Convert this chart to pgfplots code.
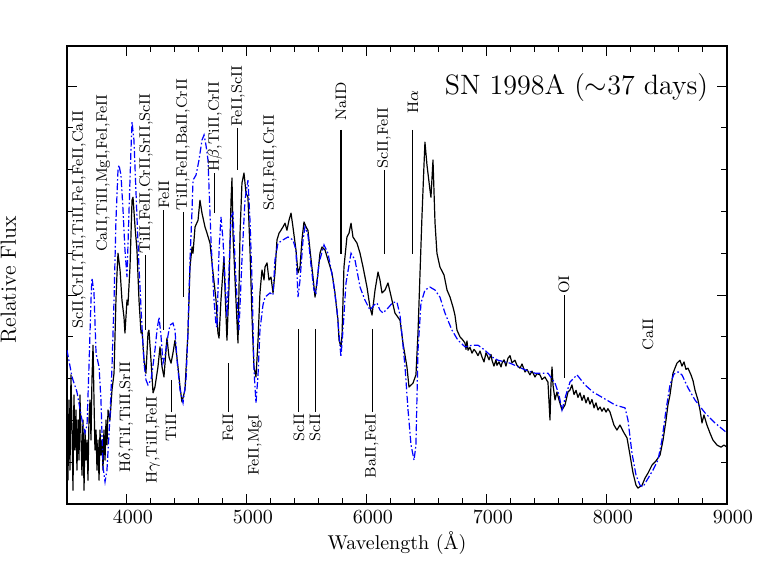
\documentclass[border=0pt]{standalone}
\usepackage{fontspec}
\usepackage{pgfplots}
\usepackage{pgfplotstable}
\pgfplotsset{compat=1.18}

\pgfplotstableread{
lam flux
3500 2.73
3508 0.57
3517 2.49
3525 0.81
3533 3.09
3542 1.77
3550 0.33
3558 2.61
3567 1.29
3575 2.25
3583 0.81
3592 2.01
3600 1.05
3608 2.61
3617 1.53
3625 0.69
3633 2.01
3642 0.33
3650 1.77
3658 1.05
3667 1.53
3675 0.57
3683 2.01
3692 2.49
3700 1.53
3708 2.97
3717 3.80
3725 2.49
3733 1.29
3742 1.77
3750 0.81
3758 1.53
3767 0.57
3775 1.77
3783 1.17
3792 1.53
3800 0.81
3808 1.77
3817 1.05
3825 2.01
3833 1.41
3842 2.25
3858 2.01
3875 2.73
3892 3.13
3908 4.88
3917 5.53
3925 6.00
3942 5.60
3958 4.88
3975 4.47
3983 4.09
4000 4.88
4008 4.76
4025 5.67
4042 7.27
4050 7.34
4067 6.63
4083 6.08
4100 4.88
4117 4.09
4125 4.16
4142 3.44
4158 3.13
4175 4.09
4183 4.16
4200 3.44
4217 2.66
4233 2.80
4258 3.28
4275 3.76
4292 3.28
4308 3.04
4333 3.97
4350 3.52
4367 3.37
4383 3.61
4400 3.92
4425 3.28
4442 2.80
4458 2.44
4483 2.73
4508 4.09
4525 5.67
4542 6.15
4550 6.00
4567 6.63
4592 6.79
4608 7.27
4625 6.96
4650 6.63
4667 6.48
4692 6.24
4717 5.53
4742 4.88
4758 4.09
4767 3.97
4783 4.88
4808 5.91
4817 5.12
4833 3.92
4850 5.19
4867 7.27
4875 7.80
4883 6.48
4908 4.88
4925 3.85
4942 6.48
4958 7.68
4975 7.92
4992 7.44
5008 7.34
5025 6.08
5042 4.47
5058 3.28
5075 3.04
5092 3.92
5108 5.05
5125 5.60
5142 5.36
5150 5.67
5167 5.77
5183 5.36
5200 5.43
5217 5.05
5233 5.53
5250 6.32
5267 6.48
5283 6.55
5300 6.63
5317 6.72
5333 6.55
5350 6.79
5367 6.96
5383 6.63
5408 6.08
5425 5.53
5442 5.67
5458 6.32
5475 6.75
5492 6.63
5508 6.55
5525 6.08
5550 5.43
5567 4.95
5592 5.53
5608 6.00
5625 6.15
5650 6.08
5675 5.84
5708 5.53
5733 5.05
5758 4.40
5767 3.92
5783 3.76
5792 4.04
5808 5.67
5833 6.39
5850 6.48
5867 6.72
5883 6.39
5917 6.24
5942 6.00
5967 5.67
6000 5.19
6025 4.71
6042 4.52
6067 5.12
6092 5.55
6108 5.36
6125 5.05
6150 5.12
6175 5.29
6208 4.88
6233 4.57
6275 4.40
6300 3.85
6333 3.28
6350 2.80
6383 2.89
6408 3.09
6425 4.09
6442 5.53
6458 6.87
6475 8.11
6483 8.66
6500 8.11
6525 7.51
6533 7.34
6550 8.23
6567 6.72
6583 6.00
6608 5.67
6642 5.48
6667 5.12
6692 4.95
6717 4.71
6733 4.52
6750 4.16
6775 4.00
6800 3.92
6817 3.85
6825 3.70
6833 3.90
6842 3.68
6858 3.75
6875 3.61
6892 3.70
6908 3.64
6925 3.55
6942 3.66
6958 3.52
6975 3.40
6992 3.62
7000 3.57
7017 3.45
7033 3.58
7042 3.44
7058 3.30
7075 3.45
7083 3.32
7100 3.40
7117 3.28
7125 3.37
7142 3.45
7158 3.30
7175 3.49
7192 3.55
7208 3.38
7233 3.44
7250 3.32
7275 3.25
7292 3.35
7317 3.16
7333 3.22
7358 3.09
7375 3.18
7400 3.04
7417 3.12
7442 3.09
7458 2.98
7483 3.04
7500 2.95
7508 2.92
7525 2.01
7533 2.85
7542 3.28
7550 2.85
7567 2.49
7583 2.68
7600 2.49
7625 2.25
7650 2.37
7675 2.68
7692 2.73
7708 2.85
7725 2.62
7742 2.72
7758 2.55
7775 2.66
7792 2.48
7808 2.60
7825 2.42
7842 2.55
7858 2.39
7875 2.50
7892 2.30
7908 2.42
7925 2.25
7942 2.32
7958 2.22
7975 2.30
7992 2.20
8008 2.28
8025 2.20
8058 1.89
8083 1.77
8108 1.89
8142 1.70
8167 1.58
8192 1.17
8217 0.74
8242 0.45
8258 0.38
8292 0.45
8317 0.62
8342 0.74
8375 0.93
8408 1.03
8442 1.17
8467 1.53
8492 2.01
8508 2.37
8525 2.61
8550 3.13
8583 3.37
8608 3.44
8625 3.30
8642 3.40
8658 3.22
8675 3.25
8700 3.09
8717 2.95
8733 2.73
8758 2.49
8775 2.25
8792 1.94
8808 2.13
8833 1.89
8858 1.70
8883 1.53
8917 1.41
8950 1.36
8975 1.41
9000 1.36
}\observed

\pgfplotstableread{
lam flux
3500 3.68
3542 3.04
3583 2.68
3625 2.01
3650 1.70
3667 1.89
3683 3.28
3700 4.88
3708 5.41
3725 5.05
3742 3.61
3767 3.28
3783 2.49
3800 0.89
3817 0.53
3833 0.81
3858 2.08
3875 3.28
3892 4.88
3908 6.79
3925 7.99
3933 8.11
3950 7.87
3967 7.03
3983 6.08
4000 5.43
4017 7.03
4033 8.47
4042 9.14
4058 8.71
4083 6.87
4100 5.67
4125 4.23
4142 3.37
4158 2.97
4175 2.85
4200 2.97
4217 3.32
4233 3.68
4250 4.16
4267 4.47
4283 4.04
4300 3.37
4317 3.56
4342 4.04
4358 4.28
4383 4.33
4400 4.16
4417 3.44
4442 2.73
4467 2.42
4492 2.97
4508 4.09
4525 5.84
4542 7.03
4550 7.75
4575 7.87
4600 8.23
4625 8.71
4642 8.83
4658 8.59
4675 8.23
4700 6.32
4725 4.88
4742 4.28
4750 4.23
4767 6.08
4783 6.87
4800 6.32
4817 5.36
4833 4.47
4850 5.60
4867 6.87
4883 6.96
4908 5.36
4933 4.16
4958 5.84
4983 7.27
5008 7.75
5025 6.79
5042 5.36
5058 3.21
5075 2.42
5092 3.09
5108 4.16
5133 4.76
5150 4.95
5192 5.05
5217 5.00
5233 5.84
5258 6.24
5300 6.32
5342 6.39
5383 6.32
5408 6.08
5425 4.95
5442 5.36
5467 6.32
5483 6.63
5508 6.44
5533 5.72
5558 5.12
5575 5.05
5600 5.77
5642 6.20
5675 6.00
5717 5.36
5750 4.64
5783 3.52
5800 4.16
5825 5.29
5867 6.00
5900 5.84
5942 5.19
5983 4.88
6025 4.64
6058 4.76
6083 4.81
6108 4.64
6133 4.57
6175 4.69
6217 4.83
6250 4.83
6275 4.52
6292 4.04
6317 3.28
6342 2.25
6367 1.41
6392 1.05
6408 1.41
6425 3.68
6450 4.81
6483 5.12
6525 5.19
6567 5.12
6608 4.95
6650 4.57
6708 4.16
6758 3.92
6817 3.76
6875 3.80
6925 3.80
6983 3.68
7042 3.52
7092 3.44
7192 3.37
7317 3.21
7400 3.13
7508 3.13
7567 2.89
7600 2.61
7625 2.25
7658 2.61
7692 2.92
7750 3.09
7817 2.85
7883 2.68
7967 2.54
8067 2.37
8150 2.30
8175 2.01
8208 1.22
8242 0.69
8275 0.45
8300 0.41
8333 0.57
8383 0.81
8425 1.05
8458 1.53
8492 2.25
8525 2.85
8558 3.11
8592 3.16
8625 3.09
8675 2.78
8733 2.49
8817 2.18
8900 1.94
9000 1.70
}\model

\begin{document}
\begin{tikzpicture}
\useasboundingbox (-33.5pt,-37pt) rectangle (353pt,252pt);
\begin{axis}[
    at={(0pt,0pt)}, anchor=south west,
    scale only axis, width=330pt, height=229pt,
    xmin=3500, xmax=9000, ymin=0, ymax=10.96,
    xtick={4000,5000,6000,7000,8000,9000}, minor x tick num=4,
    ytick={0,5,10}, minor y tick num=4, yticklabels={},
    tick align=inside, major tick length=5pt, minor tick length=3pt,
    tick style={black, line width=0.5pt},
    axis line style={line width=0.6pt},
    /pgf/number format/1000 sep={},
    xticklabel style={font=\fontsize{10}{12}\selectfont, xshift=3pt},
    every axis x label/.style={at={(axis description cs:0.5,0)}, anchor=base, yshift=-23pt, font=\fontsize{10}{12}\selectfont},
    every axis y label/.style={at={(axis description cs:-0.0773,0.49)}, rotate=90, anchor=base, font=\fontsize{11}{13}\selectfont},
    xlabel={Wavelength (\AA)},
    ylabel={Relative Flux},
]
\addplot[black, line width=0.6pt, line join=round] table[x=lam, y=flux] {\observed};
\addplot[blue, line width=0.6pt, dash pattern=on 3.5pt off 1.2pt on 0.8pt off 1.2pt] table[x=lam, y=flux] {\model};

\node[anchor=east, font=\fontsize{14}{16}\selectfont] at (axis description cs:0.982,0.91) {SN 1998A ($\sim$37 days)};

\begin{scope}[every node/.style={rotate=90, inner sep=0.5pt, font=\fontsize{7.6}{9}\selectfont}]
% labels above the spectrum
\node[anchor=west] at (axis cs:3600,4.16) {ScII,CrII,TiI,TiII,FeI,FeII,CaII};
\node[anchor=west] at (axis cs:3800,6.00) {CaII,TiII,MgI,FeI,FeII};
\draw[line width=0.5pt] (axis cs:4158,5.96) -- (axis cs:4158,4.16);
\node[anchor=west] at (axis cs:4158,5.96) {TiII,FeII,CrII,SrII,ScII};
\draw[line width=0.5pt] (axis cs:4308,7.03) -- (axis cs:4308,4.16);
\node[anchor=west] at (axis cs:4308,7.03) {FeII};
\draw[line width=0.5pt] (axis cs:4467,6.99) -- (axis cs:4467,4.95);
\node[anchor=west] at (axis cs:4467,6.99) {TiII,FeII,BaII,CrII};
\draw[line width=0.5pt] (axis cs:4733,7.92) -- (axis cs:4733,6.96);
\node[anchor=west] at (axis cs:4733,7.92) {H$\beta$,TiII,CrII};
\draw[line width=0.5pt] (axis cs:4925,9.00) -- (axis cs:4925,7.99);
\node[anchor=west] at (axis cs:4925,9.00) {FeII,ScII};
\node[anchor=west] at (axis cs:5192,6.99) {ScII,FeII,CrII};
\draw[line width=0.9pt] (axis cs:5783,8.95) -- (axis cs:5783,5.98);
\node[anchor=west] at (axis cs:5783,9.14) {NaID};
\draw[line width=0.5pt] (axis cs:6142,7.99) -- (axis cs:6142,5.98);
\node[anchor=west] at (axis cs:6142,7.99) {ScII,FeII};
\draw[line width=0.5pt] (axis cs:6383,8.95) -- (axis cs:6383,5.98);
\node[anchor=west] at (axis cs:6383,9.31) {H$\alpha$};
\draw[line width=0.5pt] (axis cs:7642,5.00) -- (axis cs:7642,3.01);
\node[anchor=west] at (axis cs:7642,5.00) {OI};
\node[anchor=west] at (axis cs:8342,3.64) {CaII};
% labels below the spectrum
\node[anchor=east] at (axis cs:3992,3.44) {H$\delta$,TiI,TiII,SrII};
\node[anchor=east] at (axis cs:4217,2.61) {H$\gamma$,TiII,FeII};
\draw[line width=0.5pt] (axis cs:4367,2.97) -- (axis cs:4367,2.20);
\node[anchor=east] at (axis cs:4367,2.20) {TiII};
\draw[line width=0.5pt] (axis cs:4842,3.37) -- (axis cs:4842,2.20);
\node[anchor=east] at (axis cs:4842,2.20) {FeII};
\node[anchor=east] at (axis cs:5067,2.18) {FeII,MgI};
\draw[line width=0.5pt] (axis cs:5433,4.19) -- (axis cs:5433,2.20);
\node[anchor=east] at (axis cs:5433,2.20) {ScII};
\draw[line width=0.5pt] (axis cs:5567,4.19) -- (axis cs:5567,2.20);
\node[anchor=east] at (axis cs:5567,2.20) {ScII};
\draw[line width=0.5pt] (axis cs:6042,4.19) -- (axis cs:6042,2.20);
\node[anchor=east] at (axis cs:6042,2.20) {BaII,FeII};
\end{scope}
\end{axis}
\end{tikzpicture}
\end{document}
